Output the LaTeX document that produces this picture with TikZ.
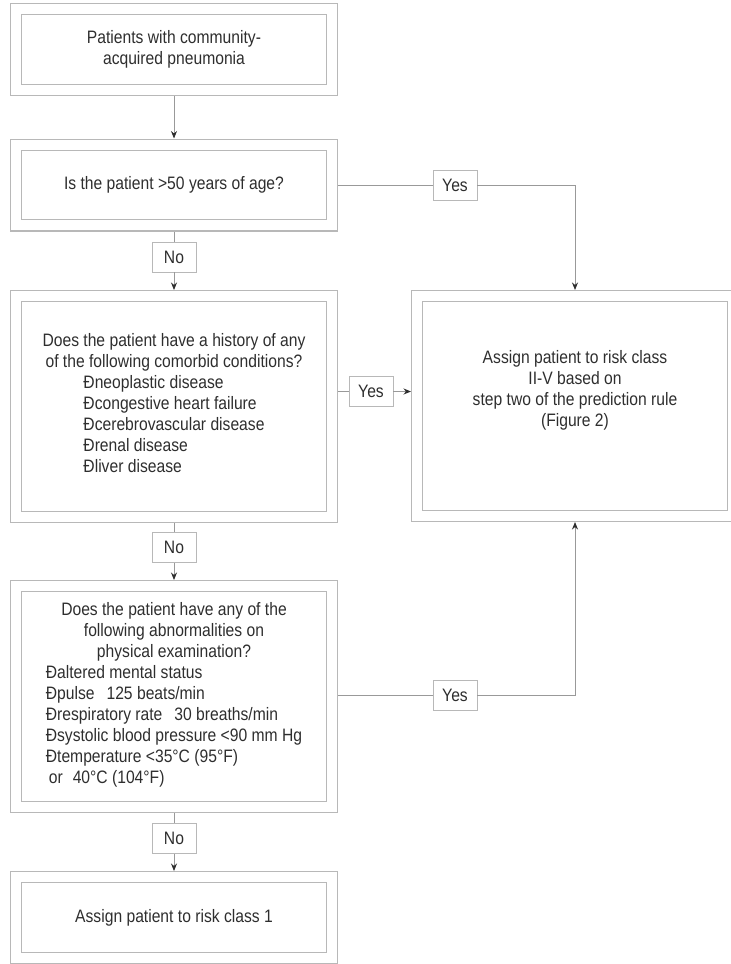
\documentclass[tikz,border=0pt]{standalone}
\usepackage{fontspec}
\setmainfont{Liberation Sans}[FakeStretch=0.87]
\usepackage{tikz}
\usetikzlibrary{arrows.meta}
\definecolor{box gray}{rgb}{0.72, 0.72, 0.72}
\definecolor{line gray}{rgb}{0.6, 0.6, 0.6}
\definecolor{ink gray}{rgb}{0.18, 0.18, 0.18}

\begin{document}
\begin{tikzpicture}[x = 1pt, y = -1pt,
		font = \fontsize{18}{21}\selectfont, text = ink gray,
		panel/.style = {draw = box gray, line width = 1.2pt, double = white,
			double distance = 10pt, outer sep = 6.2pt, inner sep = 0pt,
			minimum width = 315.6pt, align = center},
		short/.style = {panel, minimum height = 80.6pt},
		tall/.style = {panel, minimum height = 220.6pt},
		answer/.style = {draw = box gray, line width = 0.9pt, fill = white,
			minimum width = 44pt, minimum height = 30pt, inner sep = 0pt},
		link/.style = {draw = line gray, line width = 0.9pt},
		arrow/.style = {link, -{Stealth[length = 7.5pt, width = 6pt, color = ink gray]}}]
			\useasboundingbox (0, 0) rectangle (731, 964);
			% left column
			\node[short] (start) at (174, 49.5)
				{Patients with community-\\acquired pneumonia};
			\node[short] (age) at (174, 185)
				{Is the patient >50 years of age?};
			\node[tall] (comorb) at (174, 406.5)
				{Does the patient have a history of any\\
				 of the following comorbid conditions?\\
				 \begin{tabular}[t]{@{}l@{}}
					Ðneoplastic disease\\
					Ðcongestive heart failure\\
					Ðcerebrovascular disease\\
					Ðrenal disease\\
					Ðliver disease
				 \end{tabular}};
			\node[tall] (exam) at (174, 696.5)
				{Does the patient have any of the\\
				 following abnormalities on\\
				 physical examination?\\
				 \begin{tabular}[t]{@{}l@{}}
					Ðaltered mental status\\
					Ðpulse\hspace{12pt}125 beats/min\\
					Ðrespiratory rate\hspace{12pt}30 breaths/min\\
					Ðsystolic blood pressure <90 mm Hg\\
					Ðtemperature <35°C (95°F)\\
					\hspace{3pt}or\hspace{10pt}40°C (104°F)
				 \end{tabular}};
			\node[short] (classone) at (174, 917.5)
				{Assign patient to risk class 1};
			% right column
			\node[panel, minimum height = 219.6pt] (risk) at (575, 406)
				{Assign patient to risk class\\II-V based on\\
				 step two of the prediction rule\\(Figure 2)\\[14pt]};
			% answers
			\node[answer] (no1) at (174, 257) {No};
			\node[answer] (no2) at (174, 547.5) {No};
			\node[answer] (no3) at (174, 838.5) {No};
			\node[answer] (yes1) at (455, 185) {Yes};
			\node[answer] (yes2) at (371, 391.5) {Yes};
			\node[answer] (yes3) at (455, 695.5) {Yes};
			% connectors
			\draw[arrow] (start.south) -- (age.north);
			\draw[link] (age.south) -- (no1.north);
			\draw[arrow] (no1.south) -- (comorb.north);
			\draw[link] (comorb.south) -- (no2.north);
			\draw[arrow] (no2.south) -- (exam.north);
			\draw[link] (exam.south) -- (no3.north);
			\draw[arrow] (no3.south) -- (classone.north);
			\draw[link] (age.east |- yes1) -- (yes1.west);
			\draw[arrow] (yes1.east) -| (risk.north);
			\draw[link] (comorb.east |- yes2) -- (yes2.west);
			\draw[arrow] (yes2.east) -- (risk.west |- yes2);
			\draw[link] (exam.east |- yes3) -- (yes3.west);
			\draw[arrow] (yes3.east) -| (risk.south);
		\end{tikzpicture}
\end{document}
